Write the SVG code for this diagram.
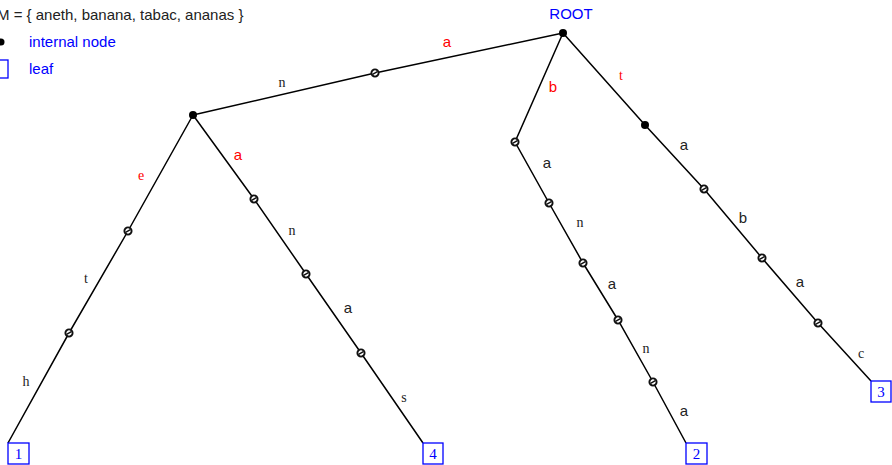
<svg xmlns="http://www.w3.org/2000/svg" width="892" height="465" viewBox="0 0 892 465">
<defs>
<style>
.e{stroke:#000;stroke-width:1.5;fill:none}
.sans{font-family:"Liberation Sans",Arial,sans-serif;font-size:15px;text-anchor:middle}
.serif{font-family:"Liberation Serif","Times New Roman",serif;font-size:14px;text-anchor:middle}
.red{fill:#ff0000}
.blk{fill:#222}
.blue{fill:#0000ff}
.leafbox{fill:#fff;stroke:#0000ff;stroke-width:1.3}
.leaftxt{font-family:"Liberation Serif","Times New Roman",serif;font-size:15px;text-anchor:middle;fill:#0000ff}
</style>
<g id="mid">
<circle r="3.6" fill="#fff" stroke="#111" stroke-width="1.9"/>
<path d="M-2.4,1.4 L2.4,-1.4" stroke="#111" stroke-width="1.5"/>
</g>
</defs>
<rect width="892" height="465" fill="#fff"/>

<g id="legend">
<text x="-3" y="20" class="sans blk" style="text-anchor:start">M = { aneth, banana, tabac, ananas }</text>
<circle cx="1" cy="42" r="3.5" fill="#000"/>
<text x="29" y="47" class="sans blue" style="text-anchor:start">internal node</text>
<rect x="-10" y="60" width="18" height="18" class="leafbox"/>
<text x="29" y="74" class="sans blue" style="text-anchor:start">leaf</text>
</g>

<g id="connectors">
<polyline class="e" points="563,33 375,73 193,115"/>
<polyline class="e" points="193,115 128,231 69,333 8,443"/>
<polyline class="e" points="193,115 254,199 306,274 361,353 423,443"/>
<polyline class="e" points="563,33 515,142 549,203 583,263 618,320 653,382 686,443"/>
<polyline class="e" points="563,33 645,125 704,189 762,258 818,323 871,381"/>
</g>

<g id="labels">
<text x="447" y="47" class="sans red">a</text>
<text x="282" y="87" class="serif blk">n</text>
<text x="553" y="92" class="sans red">b</text>
<text x="621" y="80" class="serif red">t</text>
<text x="141" y="180" class="serif red">e</text>
<text x="86" y="283" class="serif blk">t</text>
<text x="26" y="386" class="serif blk">h</text>
<text x="238" y="160" class="sans red">a</text>
<text x="292" y="235" class="serif blk">n</text>
<text x="348" y="313" class="sans blk">a</text>
<text x="404" y="402" class="serif blk">s</text>
<text x="547" y="168" class="sans blk">a</text>
<text x="580" y="227" class="serif blk">n</text>
<text x="612" y="289" class="sans blk">a</text>
<text x="646" y="353" class="serif blk">n</text>
<text x="684" y="416" class="sans blk">a</text>
<text x="684" y="150" class="sans blk">a</text>
<text x="743" y="223" class="sans blk">b</text>
<text x="800" y="287" class="sans blk">a</text>
<text x="861" y="358" class="serif blk">c</text>
</g>

<g id="root">
<circle cx="563" cy="33" r="4" fill="#000"/>
<text x="571" y="19" class="sans blue">ROOT</text>
</g>
<g id="n_a"><circle cx="193" cy="115" r="4" fill="#000"/></g>
<g id="n_t"><circle cx="645" cy="125" r="4" fill="#000"/></g>

<g id="m1"><use href="#mid" x="375" y="73"/></g>
<g id="m2"><use href="#mid" x="128" y="231"/></g>
<g id="m3"><use href="#mid" x="69" y="333"/></g>
<g id="m4"><use href="#mid" x="254" y="199"/></g>
<g id="m5"><use href="#mid" x="306" y="274"/></g>
<g id="m6"><use href="#mid" x="361" y="353"/></g>
<g id="m7"><use href="#mid" x="515" y="142"/></g>
<g id="m8"><use href="#mid" x="549" y="203"/></g>
<g id="m9"><use href="#mid" x="583" y="263"/></g>
<g id="m10"><use href="#mid" x="618" y="320"/></g>
<g id="m11"><use href="#mid" x="653" y="382"/></g>
<g id="m12"><use href="#mid" x="704" y="189"/></g>
<g id="m13"><use href="#mid" x="762" y="258"/></g>
<g id="m14"><use href="#mid" x="818" y="323"/></g>

<g id="leaf1"><rect x="8" y="443" width="21" height="21" class="leafbox"/><text x="18.5" y="459" class="leaftxt">1</text></g>
<g id="leaf4"><rect x="423" y="443" width="20" height="21" class="leafbox"/><text x="433" y="459" class="leaftxt">4</text></g>
<g id="leaf2"><rect x="686" y="443" width="21" height="21" class="leafbox"/><text x="696.5" y="459" class="leaftxt">2</text></g>
<g id="leaf3"><rect x="871" y="381" width="20" height="21" class="leafbox"/><text x="881" y="397" class="leaftxt">3</text></g>
</svg>
